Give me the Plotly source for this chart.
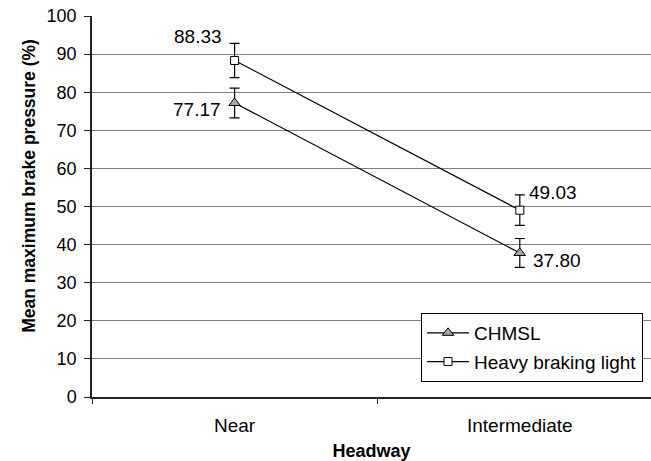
import plotly.graph_objects as go

categories = ["Near", "Intermediate"]
chmsl = [77.17, 37.80]
chmsl_err = [3.9, 3.8]
hbl = [88.33, 49.03]
hbl_err = [4.5, 4.0]
label_chmsl = ["77.17", "37.80"]
label_hbl = ["88.33", "49.03"]
y_ticks = list(range(0, 101, 10))

FONT = "Liberation Sans, Arial, sans-serif"

fig = go.Figure()
fig.add_trace(go.Scatter(
    x=categories, y=chmsl, name="CHMSL", mode="lines+markers",
    legendgroup="a",
    line=dict(color="black", width=1.2),
    marker=dict(symbol="triangle-up", size=10, color="#a6a6a6",
                line=dict(color="black", width=1)),
    error_y=dict(type="data", array=chmsl_err, visible=True,
                 color="black", thickness=1.2, width=5),
))
fig.add_trace(go.Scatter(
    x=categories, y=hbl, name="Heavy braking light", mode="lines+markers",
    legendgroup="b",
    line=dict(color="black", width=1.2),
    marker=dict(symbol="square", size=8, color="white",
                line=dict(color="black", width=1)),
    error_y=dict(type="data", array=hbl_err, visible=True,
                 color="black", thickness=1.2, width=5),
))

# data labels
shifts_hbl = [(-37, 24), (33, 18)]
shifts_ch = [(-38, -7), (37, -8)]
for i, c in enumerate(categories):
    fig.add_annotation(x=c, y=hbl[i], text=label_hbl[i], showarrow=False,
                       xshift=shifts_hbl[i][0], yshift=shifts_hbl[i][1],
                       font=dict(size=19, color="black", family=FONT))
    fig.add_annotation(x=c, y=chmsl[i], text=label_chmsl[i], showarrow=False,
                       xshift=shifts_ch[i][0], yshift=shifts_ch[i][1],
                       font=dict(size=19, color="black", family=FONT))

fig.add_annotation(xref="paper", yref="paper", x=-0.114, y=0.555,
                   xanchor="center", yanchor="middle",
                   text="<b>Mean maximum brake pressure (%)</b>", textangle=-90,
                   showarrow=False, font=dict(size=17.5, color="black", family=FONT))

fig.update_layout(
    width=651, height=461,
    margin=dict(l=92, r=0, t=16, b=64, autoexpand=False),
    paper_bgcolor="white", plot_bgcolor="white",
    font=dict(family=FONT, size=18, color="black"),
    showlegend=True,
    legend=dict(x=0.5886, y=0.2205, xanchor="left", yanchor="top",
                bgcolor="white", bordercolor="black", borderwidth=1,
                traceorder="grouped", tracegroupgap=1, itemwidth=42,
                font=dict(size=19, family=FONT)),
    xaxis=dict(
        type="category", range=[-0.5, 1.46], automargin=False,
        showline=True, linecolor="#222222", linewidth=1.5,
        ticks="outside", tickson="boundaries", ticklen=5, tickcolor="#222222",
        ticklabelstandoff=10,
        showgrid=False, tickfont=dict(size=19),
        title=dict(text="<b>Headway</b>", font=dict(size=18), standoff=12),
    ),
    yaxis=dict(
        range=[0, 100], tickvals=y_ticks, automargin=False,
        showline=True, linecolor="#222222", linewidth=1.5,
        ticks="outside", ticklen=6, tickcolor="#222222",
        ticklabelstandoff=4,
        showgrid=True, gridcolor="#808080", gridwidth=1,
        zeroline=False, tickfont=dict(size=18),
    ),
)

fig.write_html("out.html", config={"displayModeBar": False},
               post_script="document.body.style.margin='0';")
